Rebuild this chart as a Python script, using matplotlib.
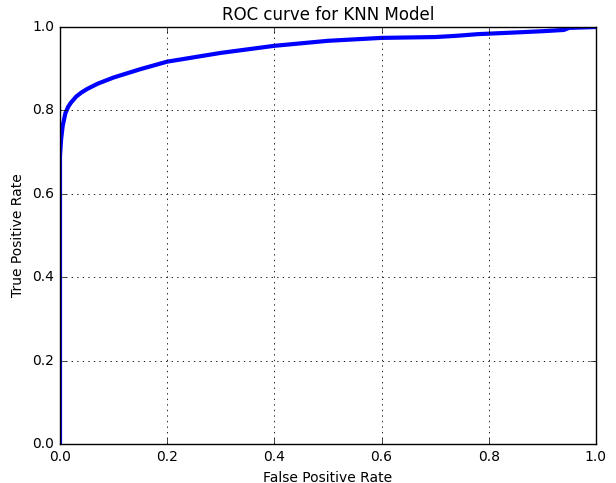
import matplotlib
matplotlib.use("Agg")
import matplotlib.pyplot as plt

plt.style.use("classic")

fpr = [0.0, 0.0, 0.002, 0.005, 0.01, 0.015, 0.02, 0.03, 0.04, 0.05, 0.07,
       0.1, 0.15, 0.2, 0.3, 0.4, 0.5, 0.6, 0.7, 0.74, 0.78, 0.85, 0.9, 0.94,
       0.95, 1.0]
tpr = [0.0, 0.69, 0.73, 0.763, 0.793, 0.808, 0.818, 0.833, 0.843, 0.851, 0.864,
       0.879, 0.899, 0.917, 0.938, 0.955, 0.967, 0.974, 0.976, 0.979, 0.983,
       0.987, 0.99, 0.993, 0.998, 1.0]

fig = plt.figure(figsize=(6.16, 4.83), dpi=100, facecolor="white")
ax = fig.add_axes([0.0974, 0.0807, 0.87, 0.8633])

ax.plot(fpr, tpr, color="#0000ff", linewidth=3.0)

ax.set_xlim(0.0, 1.0)
ax.set_ylim(0.0, 1.0)
ax.set_xticks([0.0, 0.2, 0.4, 0.6, 0.8, 1.0])
ax.set_yticks([0.0, 0.2, 0.4, 0.6, 0.8, 1.0])
ax.tick_params(labelsize=10)
ax.grid(True, linestyle=":", color="black", linewidth=0.6)

ax.set_title("ROC curve for KNN Model", fontsize=12)
ax.set_xlabel("False Positive Rate", fontsize=10)
ax.set_ylabel("True Positive Rate", fontsize=10)

fig.savefig("out.png", dpi=100, facecolor="white")
